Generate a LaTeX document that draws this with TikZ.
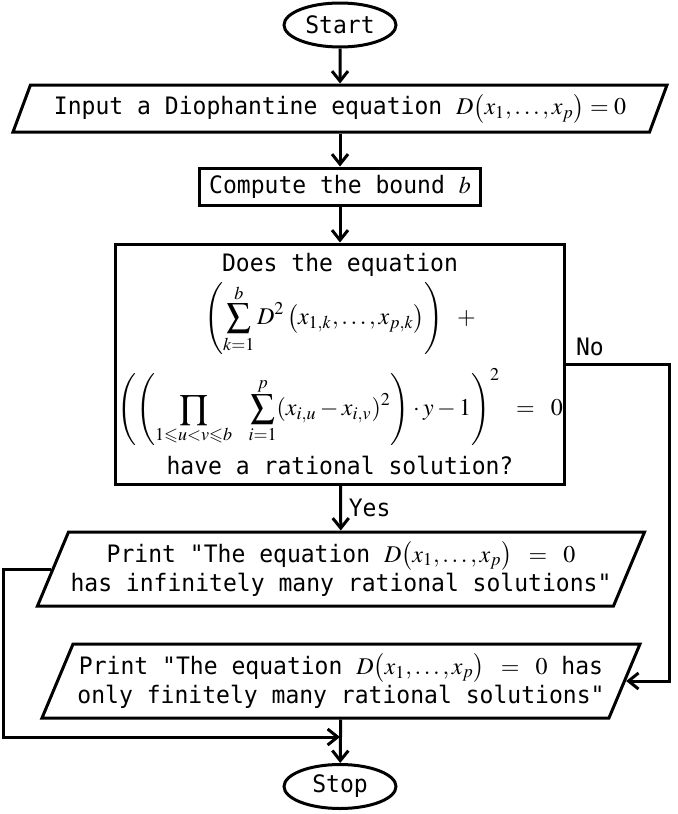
\documentclass[tikz,border=0pt]{standalone}
\usepackage{amsmath}
\usepackage{mathptmx}
\usepackage{amssymb}
\usepackage[no-math]{fontspec}
\setmonofont{DejaVu Sans Mono}[FakeStretch=0.96]
\usetikzlibrary{positioning,arrows.meta,shapes.geometric}

\begin{document}
\begin{tikzpicture}[x=0.5pt, y=-0.5pt, line width=1.5pt,
    font=\ttfamily\fontsize{12}{14.5}\selectfont,
    terminal/.style={draw, ellipse, minimum width=56pt, minimum height=22pt, inner sep=0pt},
    datos/.style={draw, trapezium, trapezium left angle=62, trapezium right angle=118,
                  trapezium stretches body, inner sep=1pt, align=center},
    proceso/.style={draw, rectangle, inner sep=1pt, align=center},
    flecha/.style={-{Straight Barb[length=5pt,width=8pt]}}]
  \useasboundingbox (0,0) rectangle (678,814);
  % bloques del diagrama
  \node[terminal] (start) at (340,25) {Start};
  \node[datos, minimum width=327pt, minimum height=23.5pt] (input) at (340,108.5)
    {Input a Diophantine equation $D\bigl(x_1,\ldots,x_p\bigr)=0$};
  \node[proceso, minimum width=140.5pt, minimum height=18.5pt] (bound) at (340,186.5)
    {Compute the bound $b$};
  \node[proceso, minimum width=223.5pt, minimum height=120pt] (test) at (340,364)
    {Does the equation\\[2pt]
     $\displaystyle\left(\sum_{k=1}^{b}D^2\left(x_{1,k},\ldots,x_{p,k}\right)\right)\;\;+$\\[6pt]
     $\displaystyle\left(\left(\prod_{1\leqslant u<v\leqslant b}\ \sum_{i=1}^{p}(x_{i,u}-x_{i,v})^2\right)\cdot y-1\right)^2\;\;=\;\;0$\\[4pt]
     have a rational solution?};
  \node[datos, minimum width=299pt, minimum height=37pt] (infinite) at (341,569)
    {Print "The equation $D\bigl(x_1,\ldots,x_p\bigr)\;\;=\;\;0$\\
     has infinitely many rational solutions"};
  \node[datos, minimum width=299pt, minimum height=37pt] (finite) at (341,681)
    {Print "The equation $D\bigl(x_1,\ldots,x_p\bigr)\;\;=\;\;0$ has\\
     only finitely many rational solutions"};
  \node[terminal] (stop) at (340,786.5) {Stop};
  \coordinate (merge) at (340,737);
  % conectores
  \draw[flecha] (start) -- (input);
  \draw[flecha] (input) -- (bound);
  \draw[flecha] (bound) -- (test);
  \draw[flecha] (test) -- node[right]{Yes} (infinite);
  \draw[flecha] (test.east) -- node[above, pos=0.23]{No} ++(103,0) |- (finite.east);
  \draw[flecha] (infinite.west) -- ++(-48,0) |- (merge);
  \draw[flecha] (finite) -- (stop);
\end{tikzpicture}
\end{document}
